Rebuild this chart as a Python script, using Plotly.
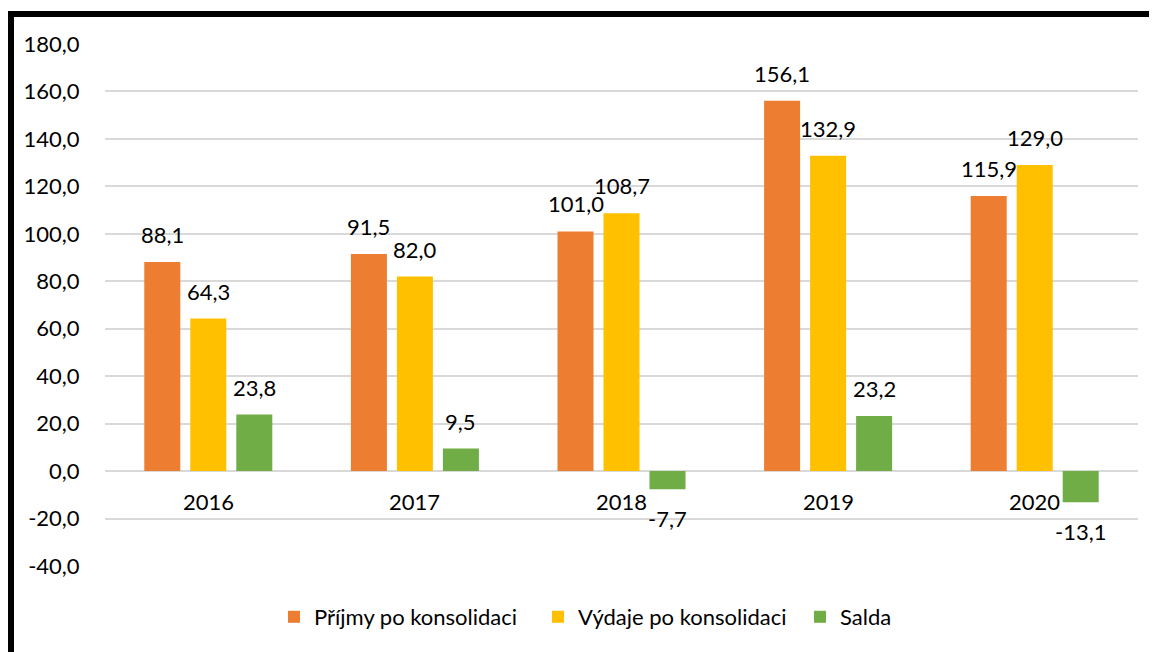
import plotly.graph_objects as go

years = ["2016", "2017", "2018", "2019", "2020"]
prijmy = [88.1, 91.5, 101.0, 156.1, 115.9]
vydaje = [64.3, 82.0, 108.7, 132.9, 129.0]
salda = [23.8, 9.5, -7.7, 23.2, -13.1]
series_names = ["Příjmy po konsolidaci", "Výdaje po konsolidaci", "Salda"]
colors = ["#ED7D31", "#FFC000", "#70AD47"]
tick_vals = [-40, -20, 0, 20, 40, 60, 80, 100, 120, 140, 160, 180]


def fmt(v):
    return f"{v:.1f}".replace(".", ",")


tick_text = [fmt(v) for v in tick_vals]

FONT = "Lato"
FS = 22
OFF = 8  # page body margin
W, H = 1157 - OFF, 652 - OFF
L, R, T, B = 105 - OFF, 19, 44 - OFF, 86
pw, ph = W - L - R, H - T - B
SLOT = 46  # px between bar centres within a group


def px_x(x):
    return (x - OFF - L) / pw


def px_y(y):
    return (H - B - (y - OFF)) / ph


legend_ids = ["legend", "legend2", "legend3"]
legend_left_px = [274, 538, 800]

fig = go.Figure()
all_vals = [prijmy, vydaje, salda]
for j, (name, vals, col) in enumerate(zip(series_names, all_vals, colors)):
    fig.add_trace(go.Bar(
        x=years, y=vals, name=name, marker=dict(color=col, line=dict(width=0)),
        legend=legend_ids[j],
    ))
    for i, v in enumerate(vals):
        pos = v >= 0
        fig.add_annotation(
            x=i, y=v, xref="x", yref="y", text=fmt(v), showarrow=False,
            xshift=(j - 1) * SLOT, yanchor="bottom" if pos else "top",
            yshift=12 if pos else -14,
            font=dict(family=FONT, size=FS, color="#000000"),
        )

for i, yr in enumerate(years):
    fig.add_annotation(x=i, y=0, xref="x", yref="y", text=yr, showarrow=False,
                       yanchor="middle", yshift=-30,
                       font=dict(family=FONT, size=FS, color="#000000"))

legend_common = dict(orientation="h", xanchor="left", y=px_y(617), yanchor="middle",
                     font=dict(family=FONT, size=FS, color="#000000"),
                     bgcolor="rgba(0,0,0,0)", borderwidth=0)

fig.update_layout(
    width=W, height=H,
    margin=dict(l=L, r=R, t=T, b=B, autoexpand=False),
    paper_bgcolor="white", plot_bgcolor="white",
    barmode="group", bargap=0.332, bargroupgap=0.217,
    font=dict(family=FONT, size=FS, color="#000000"),
    showlegend=True,
    legend=dict(x=px_x(legend_left_px[0]), **legend_common),
    legend2=dict(x=px_x(legend_left_px[1]), **legend_common),
    legend3=dict(x=px_x(legend_left_px[2]), **legend_common),
    xaxis=dict(type="category", range=[-0.5, 4.5], autorange=False, showticklabels=False,
               showgrid=False, zeroline=False, showline=False, ticks="", automargin=False),
    yaxis=dict(range=[-40, 180], autorange=False, tickmode="array", tickvals=tick_vals,
               ticktext=tick_text, showgrid=True, gridcolor="#D9D9D9", gridwidth=2,
               zeroline=True, zerolinecolor="#D9D9D9", zerolinewidth=2, showline=False,
               ticks="outside", ticklen=20, tickcolor="rgba(0,0,0,0)", automargin=False,
               tickfont=dict(family=FONT, size=FS, color="#000000")),
    shapes=[
        dict(type="line", xref="paper", yref="paper", x0=px_x(11), x1=px_x(11),
             y0=px_y(700), y1=px_y(11), line=dict(color="black", width=6)),
        dict(type="line", xref="paper", yref="paper", x0=px_x(8), x1=px_x(1200),
             y0=px_y(14), y1=px_y(14), line=dict(color="black", width=6)),
    ],
)

fig.write_html("out.html")
